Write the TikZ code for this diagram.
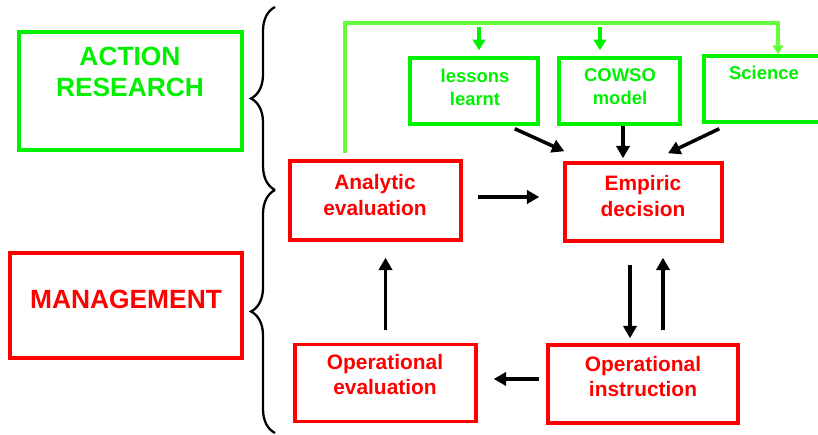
\documentclass[tikz,border=0pt]{standalone}
\usepackage{fontspec}
\setmainfont{Liberation Sans}
\usetikzlibrary{arrows.meta}
\usetikzlibrary{decorations.pathreplacing}

\definecolor{boxred}{RGB}{255,0,0}
\definecolor{boxgreen}{RGB}{0,240,0}
\definecolor{linegreen}{RGB}{100,255,60}

\begin{document}
\begin{tikzpicture}[x=0.02cm, y=-0.02cm,
    rbox/.style={draw=boxred, line width=2pt},
    gbox/.style={draw=boxgreen, line width=2pt},
    rtxt/.style={text=boxred, align=center, font=\fontsize{11.9}{14.7}\selectfont\bfseries},
    gtxt/.style={text=boxgreen, align=center, font=\fontsize{10.5}{13}\selectfont\bfseries},
    big/.style={align=center, font=\fontsize{15}{18.1}\selectfont\bfseries},
    arr/.style={-{Triangle[length=7pt,width=7.5pt]}, line width=2pt},
    garr/.style={-{Triangle[length=6pt,width=7pt]}, line width=2pt, draw=boxgreen},
    gline/.style={-{Triangle[length=5pt,width=6pt]}, line width=1.8pt, draw=linegreen}]
            %page size of the reference
            \useasboundingbox (0,0) rectangle (818,435);
            \clip (0,0) rectangle (818,435);

            \node[gbox, minimum width=4.46cm, minimum height=2.36cm] (ar) at (130.5,91) {};
            \node[big, text=boxgreen] (art) at (130,72) {ACTION\\RESEARCH};
            \node[rbox, minimum width=4.64cm, minimum height=2.1cm] (mg) at (126,305.5) {};
            \node[big, text=boxred] (mgt) at (126,299) {MANAGEMENT};

            \draw[line width=1.3pt, decorate, decoration={brace, amplitude=0.48cm}] (275,433) -- (275,190);
            \draw[line width=1.3pt, decorate, decoration={brace, amplitude=0.48cm}] (275,190) -- (275,7);

            \node[gbox, minimum width=2.56cm, minimum height=1.32cm] (les) at (474,91) {};
            \node[gtxt] (lest) at (475,87) {lessons\\learnt};
            \node[gbox, minimum width=2.42cm, minimum height=1.32cm] (cow) at (619.5,91) {};
            \node[gtxt] (cowt) at (620,87) {COWSO\\model};
            \node[gbox, minimum width=2.4cm, minimum height=1.32cm] (sci) at (764,89) {};
            \node[gtxt] (scit) at (764,73) {Science};

            \node[rbox, minimum width=3.42cm, minimum height=1.58cm] (ana) at (375.5,200.5) {};
            \node[rtxt] (anat) at (375,195) {Analytic\\evaluation};
            \node[rbox, minimum width=3.14cm, minimum height=1.56cm] (emp) at (643.5,202) {};
            \node[rtxt] (empt) at (643,196) {Empiric\\decision};
            \node[rbox, minimum width=3.62cm, minimum height=1.54cm] (oev) at (385.5,383) {};
            \node[rtxt] (oevt) at (385,374.5) {Operational\\evaluation};
            \node[rbox, minimum width=3.8cm, minimum height=1.56cm] (oin) at (643,384) {};
            \node[rtxt] (oint) at (643,376.5) {Operational\\instruction};

            %feedback line from the management loop to the research side
            \coordinate (gl) at (345,23);
            \coordinate (gr) at (778,23);
            \coordinate (b1) at (479,23);
            \coordinate (b2) at (600,23);
            \draw[gline, shorten <=0.12cm] (gl |- ana.north) -- (gl) -- (gr) -- (gr |- sci.north);
            \draw[garr, shorten <=0.08cm, shorten >=0.12cm] (b1) -- (b1 |- les.north);
            \draw[garr, shorten <=0.08cm, shorten >=0.12cm] (b2) -- (b2 |- cow.north);

            \draw[arr] ([xshift=-0.5cm,yshift=-0.06cm]les.south east) -- ([xshift=0.02cm,yshift=0.2cm]emp.north west);
            \draw[arr, shorten >=0.06cm] ([xshift=0.07cm]cow.south) -- ([xshift=0.07cm]cow.south |- emp.north);
            \draw[arr] ([xshift=0.34cm,yshift=-0.1cm]sci.south west) -- ([xshift=0.49cm,yshift=0.16cm]emp.north);

            \draw[arr, shorten <=0.3cm, shorten >=0.48cm] ([yshift=0.07cm]ana.east) -- ([yshift=0.07cm]ana.east -| emp.west);
            \draw[arr, shorten <=0.44cm, shorten >=0.1cm] ([xshift=-0.27cm]emp.south) -- ([xshift=-0.27cm]emp.south |- oin.north);
            \draw[arr, shorten <=0.26cm, shorten >=0.3cm] ([xshift=0.39cm]emp.south |- oin.north) -- ([xshift=0.39cm]emp.south);
            \draw[arr, shorten <=0.14cm, shorten >=0.32cm] ([yshift=0.1cm]oin.west) -- ([yshift=0.1cm]oin.west -| oev.east);
            \draw[arr, shorten <=0.25cm, shorten >=0.32cm] (oev.north) -- (oev.north |- ana.south);
        \end{tikzpicture}
\end{document}
